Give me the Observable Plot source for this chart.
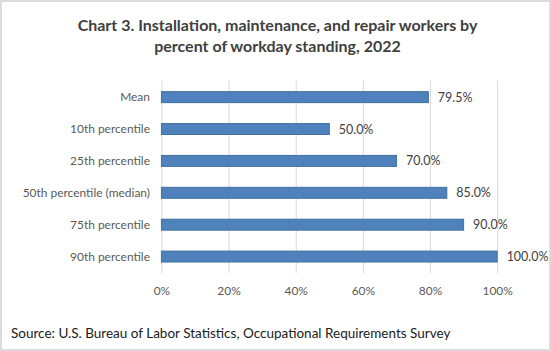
<!DOCTYPE html>
<html>
<head>
<meta charset="utf-8">
<script src="https://cdn.jsdelivr.net/npm/d3@7"></script>
<script src="https://cdn.jsdelivr.net/npm/@observablehq/plot@0.6"></script>
<style>
  html, body { margin: 0; padding: 0; background: #fff; }
  #wrap { position: relative; width: 551px; height: 351px; box-sizing: border-box; border: 2px solid #dcdcdc; overflow: hidden; font-family: Lato, "Open Sans", sans-serif; }
  #title { position: absolute; left: 0; top: 12px; width: 551px; text-align: center; font-weight: bold; font-size: 16px; line-height: 21px; color: #404040; }
  #chart { position: absolute; left: -2px; top: -2px; }
  #source { position: absolute; left: 9px; top: 323px; font-size: 13.5px; color: #1a1a1a; white-space: nowrap; }
</style>
</head>
<body>
<div id="wrap">
  <div id="title">Chart 3. Installation, maintenance, and repair workers by<br>percent of workday standing, 2022</div>
  <div id="chart"></div>
  <div id="source">Source: U.S. Bureau of Labor Statistics, Occupational Requirements Survey</div>
</div>
<script>
const categories = ["Mean", "10th percentile", "25th percentile", "50th percentile (median)", "75th percentile", "90th percentile"];
const values = [79.5, 50.0, 70.0, 85.0, 90.0, 100.0];
const xTicks = [0, 20, 40, 60, 80, 100];

const data = categories.map((c, i) => ({category: c, value: values[i]}));

const chart = Plot.plot({
  width: 551,
  height: 304,
  marginTop: 81,
  marginBottom: 30,
  marginLeft: 162,
  marginRight: 52,
  style: {fontFamily: "Lato, 'Open Sans', sans-serif", fontSize: "12px", color: "#595959", background: "transparent"},
  x: {domain: [0, 100], ticks: xTicks, tickFormat: d => d + "%", label: null},
  y: {domain: categories, paddingInner: 0.67, paddingOuter: 0.335, label: null},
  marks: [
    Plot.gridX(xTicks, {stroke: "#d9d9d9", strokeOpacity: 1, strokeWidth: 1}),
    Plot.axisX({ticks: xTicks, tickFormat: d => d + "%", tickSize: 0, tickPadding: 13, fontSize: 12, fill: "#595959", label: null}),
    Plot.axisY({tickSize: 0, tickPadding: 12, fontSize: 12, fill: "#595959", label: null}),
    Plot.barX(data, {x: "value", y: "category", fill: "#4f81bd", stroke: "#41719c", strokeWidth: 1}),
    Plot.text(data, {x: "value", y: "category", text: d => d.value.toFixed(1) + "%", dx: 9, textAnchor: "start", fill: "#404040", fontSize: 12.5})
  ]
});
document.getElementById("chart").appendChild(chart);
</script>
</body>
</html>
